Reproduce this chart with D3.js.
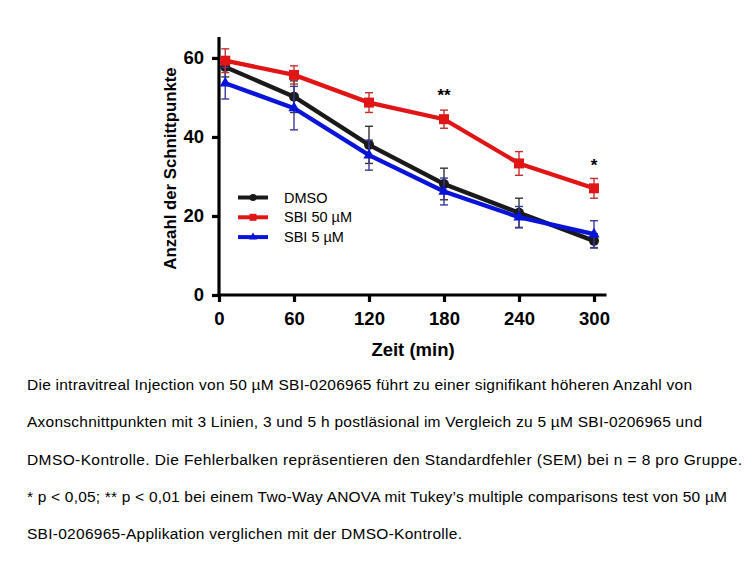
<!DOCTYPE html>
<html><head><meta charset="utf-8">
<script src="https://cdn.jsdelivr.net/npm/d3@7"></script>
<style>
html,body{margin:0;padding:0;background:#fff;}
svg{display:block;}
</style></head>
<body>
<svg id="chart" width="756" height="567"></svg>
<script>
const times = [5, 60, 120, 180, 240, 300];
const xTicks = [0, 60, 120, 180, 240, 300];
const yTicks = [0, 20, 40, 60];
const seriesNames = ["DMSO", "SBI 50 µM", "SBI 5 µM"];
const dmsoMean = [57.7, 50.2, 38.0, 28.1, 20.8, 13.7];
const dmsoSem  = [2.5, 4.0, 4.7, 4.0, 3.7, 1.8];
const sbi50Mean = [59.3, 55.7, 48.7, 44.5, 33.3, 27.0];
const sbi50Sem  = [3.0, 2.3, 2.5, 2.3, 3.0, 2.5];
const sbi5Mean = [53.6, 47.3, 35.4, 26.2, 19.7, 15.4];
const sbi5Sem  = [4.0, 5.5, 3.8, 3.4, 2.7, 3.4];
const sigTimes = [180, 300];
const sigLabels = ["**", "*"];
const sigLevels = [49, 31.5];
const captionLines = [
 "Die intravitreal Injection von 50 µM SBI-0206965 führt zu einer signifikant höheren Anzahl von",
 "Axonschnittpunkten mit 3 Linien, 3 und 5 h postläsional im Vergleich zu 5 µM SBI-0206965 und",
 "DMSO-Kontrolle. Die Fehlerbalken repräsentieren den Standardfehler (SEM) bei n = 8 pro Gruppe.",
 "* p < 0,05; ** p < 0,01 bei einem Two-Way ANOVA mit Tukey’s multiple comparisons test von 50 µM",
 "SBI-0206965-Applikation verglichen mit der DMSO-Kontrolle."
];
// layout: rendered widths of the caption lines in the reference
const captionWidths = [665, 675, 715, 700, 435];

const series = [
  {name: seriesNames[0], mean: dmsoMean, sem: dmsoSem, color:"#1a1a1a", err:"#333333", shape:"circle"},
  {name: seriesNames[2], mean: sbi5Mean, sem: sbi5Sem, color:"#0a14d8", err:"#3a3a9a", shape:"triangle"},
  {name: seriesNames[1], mean: sbi50Mean, sem: sbi50Sem, color:"#e01515", err:"#c23030", shape:"square"}
];

const svg = d3.select("#chart");
const x = d3.scaleLinear().domain([0, 310]).range([219, 606.5]);
const y = d3.scaleLinear().domain([0, 65.3]).range([295, 37]);
const font = "'Liberation Sans', Arial, Helvetica, sans-serif";

const gx = svg.append("g").attr("transform","translate(0,295)")
  .call(d3.axisBottom(x).tickValues(xTicks).tickSize(7).tickSizeOuter(0).tickPadding(10));
const gy = svg.append("g").attr("transform","translate(219,0)")
  .call(d3.axisLeft(y).tickValues(yTicks).tickSize(7).tickSizeOuter(0).tickPadding(8));
[gx, gy].forEach(g => {
  g.select(".domain").attr("stroke","#000").attr("stroke-width",3.2);
  g.selectAll(".tick line").attr("stroke","#000").attr("stroke-width",3.2);
  g.selectAll(".tick text").attr("fill","#000").style("font-family",font)
    .style("font-size","18.5px").style("font-weight","bold");
});
gy.select(".domain").attr("d","M0,296.6V37");
gx.select(".domain").attr("d","M217.4,0H606.5");

svg.append("text").attr("x",413).attr("y",356).attr("text-anchor","middle")
  .style("font-family",font).style("font-size","18.5px").style("font-weight","bold")
  .text("Zeit (min)");
svg.append("text").attr("transform","translate(175.5,168.5) rotate(-90)").attr("text-anchor","middle")
  .style("font-family",font).style("font-size","16.8px").style("font-weight","bold")
  .text("Anzahl der Schnittpunkte");

const line = d3.line().x((d,i)=>x(times[i])).y(d=>y(d));

function marker(g, shape, cx, cy, color, size){
  if(shape==="circle") g.append("circle").attr("cx",cx).attr("cy",cy).attr("r",size).attr("fill",color);
  else if(shape==="square") g.append("rect").attr("x",cx-size).attr("y",cy-size).attr("width",2*size).attr("height",2*size).attr("fill",color);
  else g.append("path").attr("d",d3.symbol(d3.symbolTriangle, size*size*2.2)()).attr("transform",`translate(${cx},${cy})`).attr("fill",color);
}

series.forEach(s=>{
  const g = svg.append("g");
  s.mean.forEach((m,i)=>{
    const cx = x(times[i]);
    const y1 = y(m + s.sem[i]), y2 = y(m - s.sem[i]);
    g.append("line").attr("x1",cx).attr("x2",cx).attr("y1",y1).attr("y2",y2).attr("stroke",s.err).attr("stroke-width",1.4);
    [y1,y2].forEach(yy=>g.append("line").attr("x1",cx-4).attr("x2",cx+4).attr("y1",yy).attr("y2",yy).attr("stroke",s.err).attr("stroke-width",1.4));
  });
  g.append("path").datum(s.mean).attr("d",line).attr("fill","none").attr("stroke",s.color).attr("stroke-width",4.3);
  s.mean.forEach((m,i)=> marker(g, s.shape, x(times[i]), y(m), s.color, 5));
});

sigTimes.forEach((t,i)=>{
  svg.append("text").attr("x",x(t)).attr("y",y(sigLevels[i])).attr("text-anchor","middle")
    .style("font-family",font).style("font-size","17px").style("font-weight","bold").text(sigLabels[i]);
});

const legendOrder = [series[0], series[2], series[1]];
legendOrder.forEach((s,i)=>{
  const ly = 197.5 + i*19.8;
  svg.append("line").attr("x1",238).attr("x2",268).attr("y1",ly).attr("y2",ly).attr("stroke",s.color).attr("stroke-width",4);
  marker(svg, s.shape, 253, ly, s.color, 3.5);
  svg.append("text").attr("x",284).attr("y",ly+5).style("font-family",font).style("font-size","14.5px").attr("fill","#000").text(s.name);
});

captionLines.forEach((t,i)=>{
  svg.append("text").attr("x",27).attr("y",390 + i*37.3)
    .attr("textLength",captionWidths[i]).attr("lengthAdjust","spacing")
    .style("font-family",font).style("font-size","15.5px").attr("fill","#000").text(t);
});
</script>
</body></html>
